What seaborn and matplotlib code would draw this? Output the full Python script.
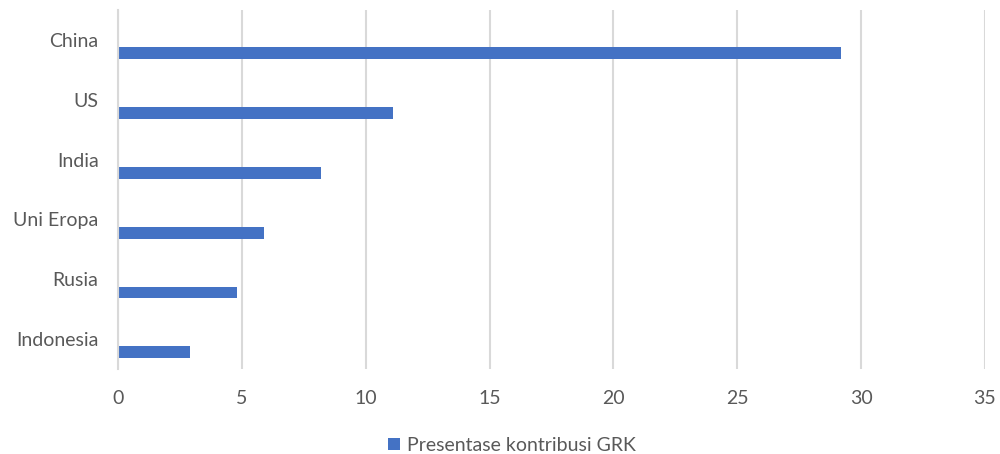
import numpy as np
import pandas as pd
import matplotlib.pyplot as plt
import seaborn as sns

# data
countries = ['China', 'US', 'India', 'Uni Eropa', 'Rusia', 'Indonesia']
contribution = [29.2, 11.1, 8.2, 5.9, 4.8, 2.9]
series_name = 'Presentase kontribusi GRK'
x_ticks = [0, 5, 10, 15, 20, 25, 30, 35]

BLUE = '#4472C4'
GRID = '#d9d9d9'
TEXT = '#595959'

sns.set_style('white')
plt.rcParams['font.family'] = ['Lato', 'DejaVu Sans']

pos = np.arange(len(countries))
df = pd.DataFrame({
    'country': countries,
    'value': contribution,
    # bar sits in the lower half of each category band (Excel clustered look)
    'ypos': pos + 0.22,
    'series': series_name,
})

fig = plt.figure(figsize=(10, 4.54), dpi=100)
ax = fig.add_axes([0.118, 0.187, 0.867, 0.791])

sns.barplot(data=df, x='value', y='ypos', hue='series', orient='h',
            native_scale=True, width=0.2, palette=[BLUE], saturation=1,
            linewidth=0, ax=ax, legend=True)

ax.set_xlim(0, 35)
ax.set_ylim(len(countries) - 0.5, -0.5)
ax.set_xticks(x_ticks)
ax.set_yticks(pos)
ax.set_yticklabels(countries)
ax.set_xlabel('')
ax.set_ylabel('')

ax.grid(axis='x', color=GRID, linewidth=1.5)
ax.grid(axis='y', visible=False)
ax.set_axisbelow(True)
for side in ['top', 'right', 'bottom']:
    ax.spines[side].set_visible(False)
ax.spines['left'].set_color(GRID)
ax.spines['left'].set_linewidth(1.5)

ax.tick_params(axis='x', length=0, pad=15, labelsize=14, labelcolor=TEXT)
ax.tick_params(axis='y', length=0, pad=14, labelsize=14, labelcolor=TEXT)

ax.get_legend().remove()
handles, labels = ax.get_legend_handles_labels()
fig.legend(handles, labels, loc='lower center', bbox_to_anchor=(0.512, -0.038),
           frameon=False, fontsize=14, labelcolor=TEXT, handlelength=0.6,
           handleheight=0.6, handletextpad=0.4)

fig.savefig('out.png', dpi=100)
